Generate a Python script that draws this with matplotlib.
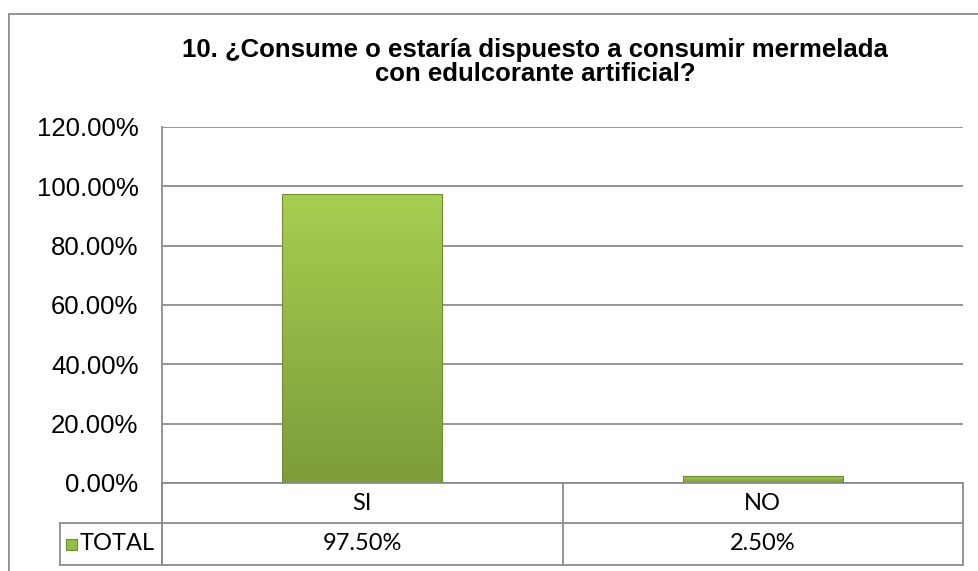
import numpy as np
import matplotlib
matplotlib.use('Agg')
import matplotlib.pyplot as plt
from matplotlib.patches import Rectangle
from matplotlib.transforms import blended_transform_factory
from matplotlib.ticker import PercentFormatter
from matplotlib.colors import LinearSegmentedColormap

categories = ['SI', 'NO']
values = [97.5, 2.5]
value_labels = ['97.50%', '2.50%']
series_name = 'TOTAL'
title_lines = ['10. ¿Consume o estaría dispuesto a consumir mermelada',
               'con edulcorante artificial?']

W, H = 979, 571
fig = plt.figure(figsize=(W / 100, H / 100), dpi=100)


def fx(px):
    return px / W


def fy(py):
    return 1 - py / H


# plot area in pixels: x 162..963, y 127..483
ax = fig.add_axes([fx(162), fy(483), fx(963 - 162), (483 - 127) / H])
x = np.arange(len(categories))
ax.set_yticks(np.arange(0, 121, 20))
ax.yaxis.set_major_formatter(PercentFormatter(decimals=2))
ax.set_xticks([])
ax.tick_params(axis='y', length=0, pad=17, labelsize=18.5)
for lab in ax.get_yticklabels():
    lab.set_fontfamily('Liberation Sans')
ax.grid(axis='y', color='#8c8c8c', lw=1.3)
ax.set_axisbelow(True)
for s in ['top', 'right']:
    ax.spines[s].set_visible(False)
for s in ['left', 'bottom']:
    ax.spines[s].set_color('#8c8c8c')
    ax.spines[s].set_linewidth(1.3)

# bars with a vertical gradient
bars = ax.bar(x, values, width=0.4, color='none', edgecolor='#6f8b34', lw=0.8, zorder=3)
grad = np.linspace(0, 1, 256).reshape(-1, 1)
cmap = LinearSegmentedColormap.from_list('g', ['#7d9c3a', '#a6cf50'])
for b in bars:
    x0, y0 = b.get_x(), b.get_y()
    im = ax.imshow(grad, cmap=cmap, origin='lower', aspect='auto',
                   extent=[x0, x0 + b.get_width(), y0, y0 + b.get_height()], zorder=2)
    im.set_clip_path(b)
ax.set_xlim(-0.5, len(categories) - 0.5)
ax.set_ylim(0, 120)

# data table under the plot
lc = '#8c8c8c'
lw = 1.3
tf = fig.transFigure
left_col = 60
for yy in [523, 565]:
    fig.add_artist(plt.Line2D([fx(left_col), fx(963)], [fy(yy), fy(yy)], color=lc, lw=lw, transform=tf))
fig.add_artist(plt.Line2D([fx(left_col), fx(left_col)], [fy(523), fy(565)], color=lc, lw=lw, transform=tf))
fig.add_artist(plt.Line2D([fx(162), fx(162)], [fy(483), fy(565)], color=lc, lw=lw, transform=tf))
bt = blended_transform_factory(ax.transData, tf)
for i in range(len(categories) + 1):
    fig.add_artist(plt.Line2D([i - 0.5, i - 0.5], [fy(483), fy(565)], color=lc, lw=lw, transform=bt))
for i, (c, v) in enumerate(zip(categories, value_labels)):
    fig.text(i, fy(503), c, transform=bt, ha='center', va='center', fontsize=17, family='Lato')
    fig.text(i, fy(544), v, transform=bt, ha='center', va='center', fontsize=17, family='Lato')
fig.add_artist(Rectangle((fx(66), fy(550)), fx(11), 11 / H, transform=tf,
                         facecolor='#93bf45', edgecolor='#6f8b34', lw=0.8))
fig.text(fx(80), fy(544), series_name, ha='left', va='center', fontsize=17, family='Lato')

# title and outer border
for line, base in zip(title_lines, [57, 81]):
    fig.text(fx(535), fy(base), line, ha='center', va='baseline', fontsize=18.5,
             fontweight='bold', family='Liberation Sans')
fig.add_artist(Rectangle((fx(9), fy(575)), fx(980), (575 - 14) / H, transform=tf,
                         facecolor='none', edgecolor='#8c8c8c', lw=1.3, clip_on=False))

fig.savefig('out.png', dpi=100)
